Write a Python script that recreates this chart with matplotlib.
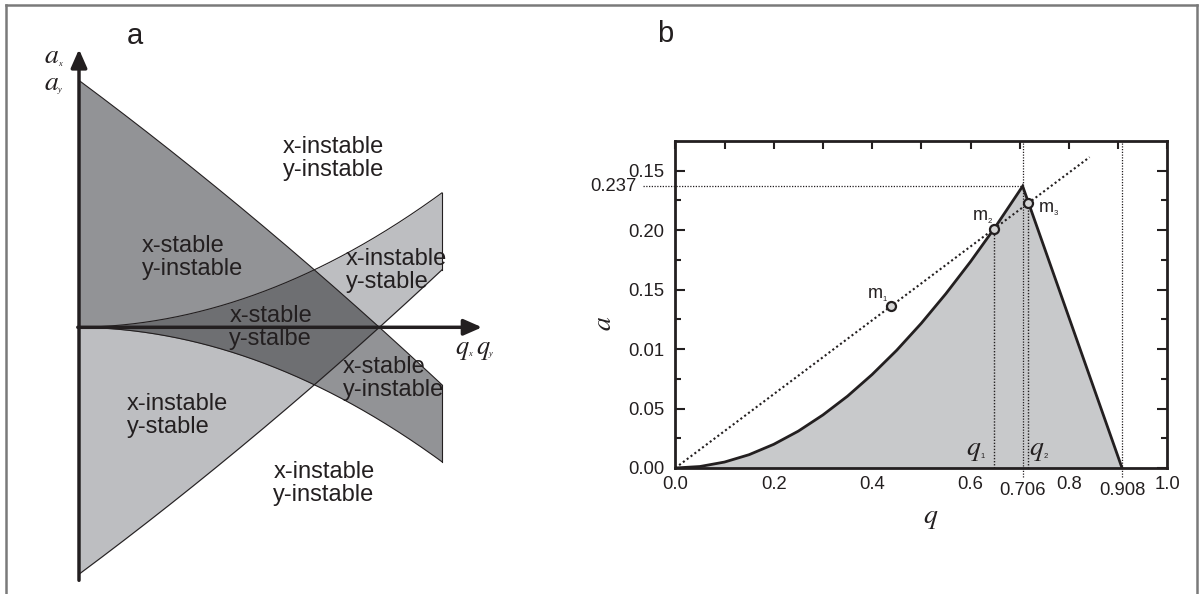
import numpy as np
import matplotlib
matplotlib.use("Agg")
import matplotlib.pyplot as plt
from matplotlib.lines import Line2D
from matplotlib.ticker import FixedLocator

plt.rcParams["font.family"] = ["Liberation Sans", "DejaVu Sans"]
plt.rcParams["mathtext.fontset"] = "stix"

W, H = 1201, 594
INK = "#231f20"

# ---------------- panel a: schematic stability regions ----------------
q_sketch = [0.0, 0.6, 1.2, 1.8, 2.4, 3.0, 3.63]
a_curve = [0.0, 0.04, 0.15, 0.33, 0.61, 0.92, 1.34]      # curved boundary (mirrored about q axis)
a_line = [2.47, 2.01, 1.54, 1.05, 0.54, -0.01, -0.57]    # falling boundary (mirrored about q axis)

region_text = [
    "x-instable\ny-instable",
    "x-stable\ny-instable",
    "x-instable\ny-stable",
    "x-stable\ny-stalbe",
    "x-stable\ny-instable",
    "x-instable\ny-stable",
    "x-instable\ny-instable",
]
region_q = [2.037, 0.627, 2.667, 1.503, 2.637, 0.477, 1.943]
region_a = [1.69, 0.70, 0.57, 0.0, -0.51, -0.88, -1.56]

# ---------------- panel b: a-q stability diagram ----------------
q_boundary = [0.0, 0.05, 0.1, 0.15, 0.2, 0.25, 0.3, 0.35, 0.4, 0.45, 0.5,
              0.55, 0.6, 0.65, 0.706, 0.908]
a_boundary = [0.0, 0.00125, 0.0050, 0.0112, 0.0199, 0.0310, 0.0446, 0.0604,
              0.0786, 0.0990, 0.1217, 0.1466, 0.1735, 0.2024, 0.237, 0.0]
q_apex, a_apex, q_end = 0.706, 0.237, 0.908

scan_q = [0.0, 0.842]
scan_a = [0.0, 0.2614]
m_q = [0.438, 0.648, 0.717]
m_a = [0.136, 0.2012, 0.2226]
m_names = ["1", "2", "3"]
q1, q2 = 0.648, 0.717

xtick_vals = [0.0, 0.2, 0.4, 0.6, 0.8, 1.0]
xtick_labels = ["0.0", "0.2", "0.4", "0.6", "0.8", "1.0"]
ytick_vals = [0.0, 0.05, 0.10, 0.15, 0.20, 0.25]
ytick_labels = ["0.00", "0.05", "0.01", "0.15", "0.20", "0.15"]

fig = plt.figure(figsize=(W / 100, H / 100), dpi=100)


def symbol(x, y, letter, sub, size=19, subsize=6, dx=5.0, dy=-2.5, **kw):
    """Italic serif symbol with a tiny upright subscript, positioned in figure pixels."""
    t = fig.text(x / W, 1 - y / H, rf"${letter}$", fontsize=size, color=INK,
                 ha="center", va="baseline", **kw)
    fig.text(x / W + dx / W, 1 - (y - dy) / H, sub, fontsize=subsize, color=INK,
             family="Liberation Serif", style="italic", ha="left", va="baseline")
    return t


# outer frame (left, top, right)
for xs, ys in [([6 / W, 6 / W], [0, 1 - 5 / H]),
               ([6 / W, 1197 / W], [1 - 5 / H, 1 - 5 / H]),
               ([1197 / W, 1197 / W], [0, 1 - 5 / H])]:
    fig.add_artist(Line2D(xs, ys, color="#7a7a7a", lw=1.8, transform=fig.transFigure))

# ---- panel a ----
axa = fig.add_axes([30 / W, 0, 470 / W, 1])
axa.set_xlim((30 - 79) / 100, (500 - 79) / 100)
axa.set_ylim((327.3 - 594) / 100, 327.3 / 100)
axa.axis("off")

qq = np.linspace(0, q_sketch[-1], 400)
C = np.polyval(np.polyfit(q_sketch, a_curve, 2), qq)
C = C - C[0]
L = np.polyval(np.polyfit(q_sketch, a_line, 2), qq)

light, dark, darkest = "#bdbec1", "#929396", "#6e6f72"
axa.fill_between(qq, -L, C, color=light, lw=0, zorder=1)
axa.fill_between(qq, -C, L, color=dark, lw=0, zorder=2)
lo = np.maximum(-C, -L)
hi = np.minimum(C, L)
axa.fill_between(qq, lo, hi, where=hi >= lo, interpolate=True, color=darkest, lw=0, zorder=3)
for curve in (C, -C, L, -L):
    axa.plot(qq, curve, color=INK, lw=0.8, zorder=4)
axa.plot([qq[-1], qq[-1]], [C[-1], -L[-1]], color=INK, lw=0.8, zorder=4)
axa.plot([qq[-1], qq[-1]], [L[-1], -C[-1]], color=INK, lw=0.8, zorder=4)

axa.annotate("", xy=(0, 2.78), xytext=(0, -2.53),
             arrowprops=dict(arrowstyle="-|>,head_length=0.5,head_width=0.22", lw=2.5,
                             color=INK, mutation_scale=22, shrinkA=0, shrinkB=0), zorder=6)
axa.annotate("", xy=(4.03, 0), xytext=(-0.012, 0),
             arrowprops=dict(arrowstyle="-|>,head_length=0.5,head_width=0.22", lw=2.5,
                             color=INK, mutation_scale=22, shrinkA=0, shrinkB=0), zorder=6)

for txt, xq, ya in zip(region_text, region_q, region_a):
    axa.text(xq, ya, txt, fontsize=17, color=INK, ha="left", va="center",
             linespacing=1.08, zorder=7)

symbol(52, 63, "a", "x", size=20, dx=6)
symbol(52, 90, "a", "y", size=20, dx=6)
symbol(462, 354, "q", "x", size=19, dx=6)
symbol(483, 354, "q", "y", size=19, dx=6)
fig.text(135 / W, 1 - 36 / H, "a", fontsize=21, color=INK, ha="center", va="center")
fig.text(665 / W, 1 - 34 / H, "b", fontsize=21, color=INK, ha="center", va="center")

# ---- panel b ----
axb = fig.add_axes([675.3 / W, 1 - 468 / H, (1167.3 - 675.3) / W, (468 - 141) / H])
axb.set_xlim(0, 1.0)
axb.set_ylim(0, 0.275)

axb.fill_between(q_boundary, 0, a_boundary, color="#c8c9cb", lw=0, zorder=1)
axb.plot(q_boundary, a_boundary, color=INK, lw=2, zorder=4, solid_joinstyle="miter")

axb.plot(scan_q, scan_a, color=INK, lw=1.5, ls=(0, (1, 1.3)), zorder=3)
axb.plot([q1, q1], [0, m_a[1]], color=INK, lw=1, ls=(0, (1, 1.2)), zorder=3)
axb.plot([q2, q2], [0, m_a[2]], color=INK, lw=1, ls=(0, (1, 1.2)), zorder=3)
axb.plot([q_apex, q_apex], [-0.0075, 0.275], color=INK, lw=0.9, ls=(0, (1, 1.2)),
         zorder=3, clip_on=False)
axb.plot([q_end, q_end], [-0.0075, 0.275], color=INK, lw=0.9, ls=(0, (1, 1.2)),
         zorder=3, clip_on=False)
axb.plot([-0.066, q_apex], [a_apex, a_apex], color=INK, lw=0.9, ls=(0, (1, 1.2)),
         zorder=3, clip_on=False)

axb.plot(m_q, m_a, "o", ms=6.5, mfc="#d4d4d4", mec=INK, mew=1.6, zorder=5)

m_lab_q = [0.4057, 0.620, 0.7545]
m_lab_a = [0.143, 0.2086, 0.2153]
for xq, ya, nm in zip(m_lab_q, m_lab_a, m_names):
    axb.text(xq, ya, "m", fontsize=13, color=INK, ha="center", va="baseline", zorder=6)
    axb.annotate(nm, xy=(xq, ya), xytext=(5.5, -2), textcoords="offset points",
                 fontsize=5.5, color=INK, ha="left", va="baseline", zorder=6)

for xq, nm in [(0.607, "1"), (0.734, "2")]:
    axb.text(xq, 0.011, r"$q$", fontsize=20, color=INK, ha="center", va="baseline", zorder=6)
    axb.annotate(nm, xy=(xq, 0.011), xytext=(5, -2), textcoords="offset points",
                 fontsize=5.5, color=INK, ha="left", va="baseline", zorder=6)

axb.set_xticks(xtick_vals)
axb.set_xticklabels(xtick_labels)
axb.xaxis.set_minor_locator(FixedLocator([0.1, 0.3, 0.5, 0.7, 0.9]))
axb.set_yticks(ytick_vals)
axb.set_yticklabels(ytick_labels)
axb.yaxis.set_minor_locator(FixedLocator([0.025, 0.075, 0.125, 0.175, 0.225]))
axb.tick_params(axis="x", which="both", direction="in", bottom=False, top=True,
                length=6, width=1.5, color=INK, labelsize=13.3, labelcolor=INK, pad=6)
axb.tick_params(axis="y", which="major", direction="in", left=True, right=True,
                length=7.5, width=1.5, color=INK, labelsize=13.3, labelcolor=INK, pad=8)
axb.tick_params(axis="y", which="minor", direction="in", left=True, right=True,
                length=4.5, width=1.5, color=INK)
for sp in axb.spines.values():
    sp.set_linewidth(2)
    sp.set_color(INK)

axb.text(-0.078, a_apex, "0.237", fontsize=13.3, color=INK, ha="right", va="center")
for xv, lab in [(q_apex, "0.706"), (q_end, "0.908")]:
    axb.annotate(lab, xy=(xv, 0), xycoords=("data", "axes fraction"),
                 xytext=(0, -16), textcoords="offset points",
                 fontsize=13.3, color=INK, ha="center", va="center")

fig.text(931 / W, 1 - 518 / H, r"$q$", fontsize=20, color=INK, ha="center", va="center")
fig.text(604 / W, 1 - 323 / H, r"$a$", fontsize=20, color=INK, ha="center", va="center",
         rotation=90)

fig.savefig("out.png", dpi=100)
